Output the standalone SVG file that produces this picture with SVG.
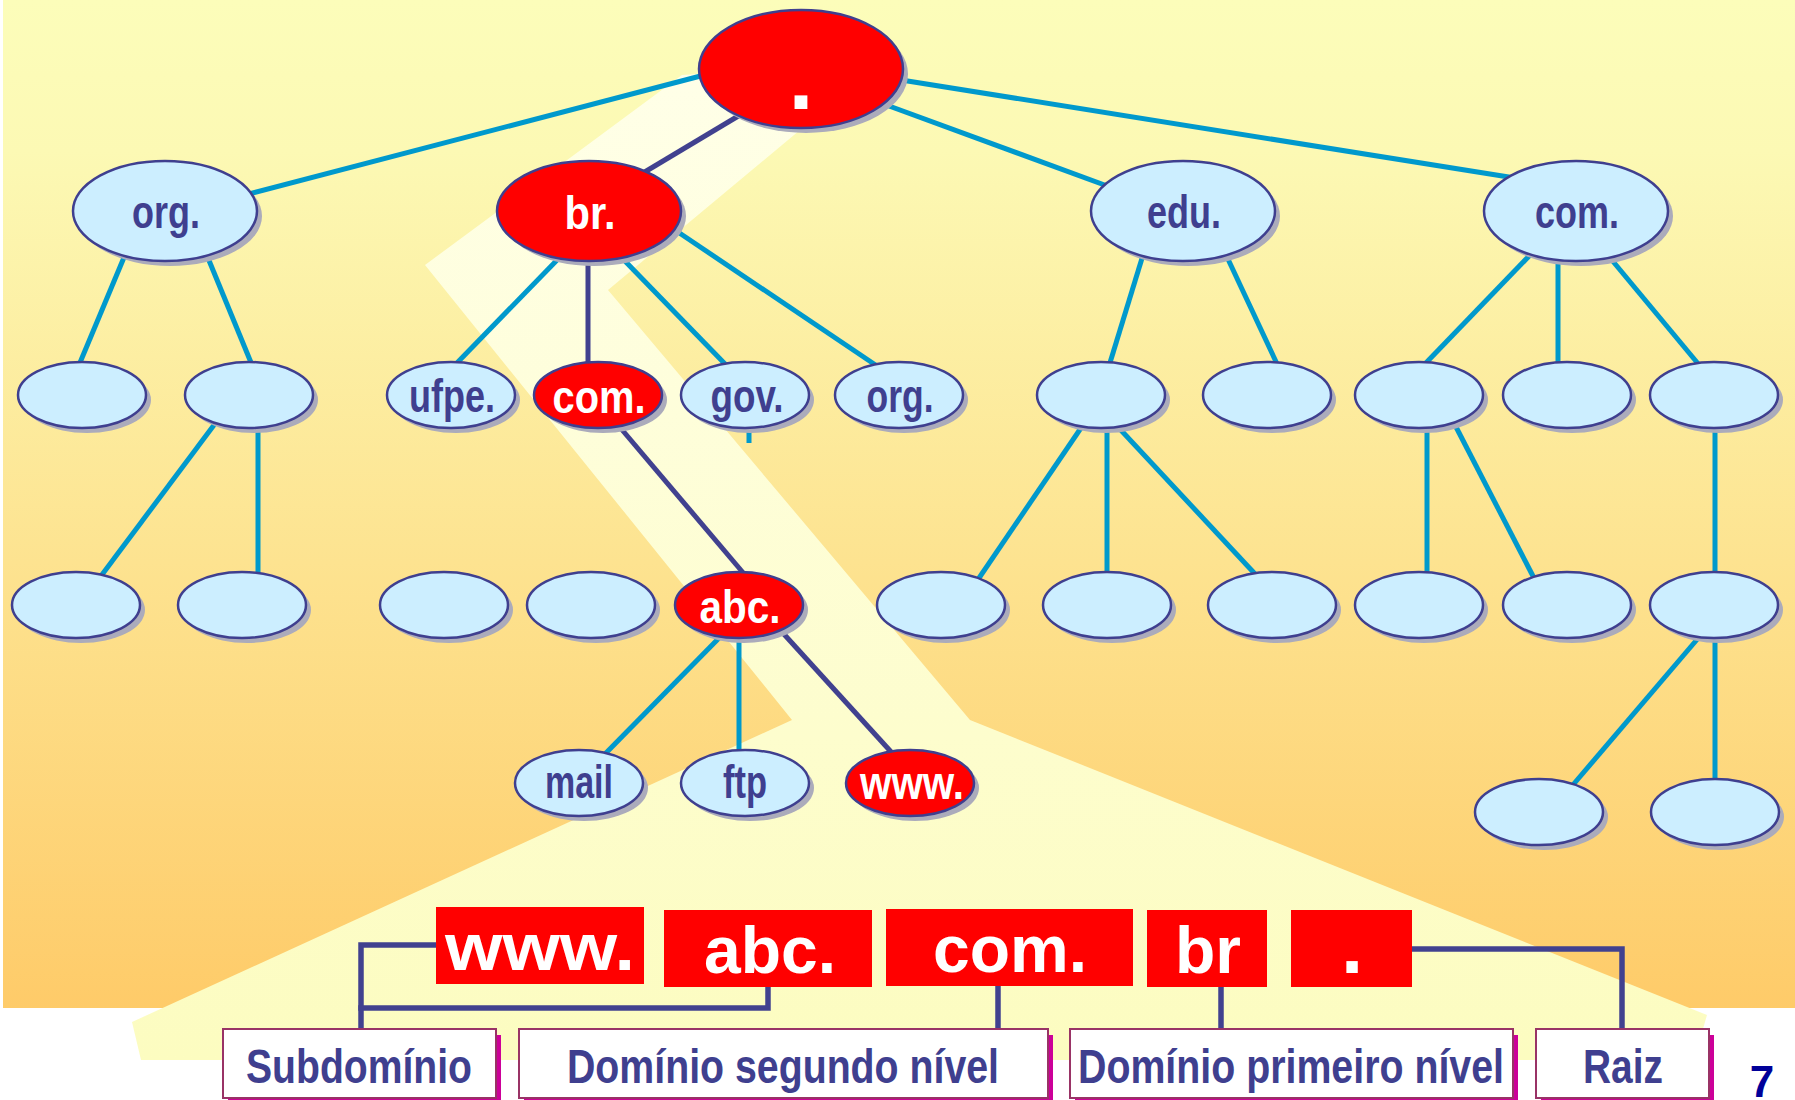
<svg xmlns="http://www.w3.org/2000/svg" width="1795" height="1100" viewBox="0 0 1795 1100">
  <defs>
    <linearGradient id="bg" x1="0" y1="0" x2="0" y2="1">
      <stop offset="0" stop-color="#FCFDBA"/>
      <stop offset="0.15" stop-color="#FCF9B4"/>
      <stop offset="1" stop-color="#FECB69"/>
    </linearGradient>
    <linearGradient id="beam" gradientUnits="userSpaceOnUse" x1="0" y1="70" x2="0" y2="1060">
      <stop offset="0" stop-color="#FFFFE8"/>
      <stop offset="1" stop-color="#FCFCC0"/>
    </linearGradient>
    <style>
      .sh { fill: #ABABBB; }
      .body { stroke: #3F3F8F; stroke-width: 2.5; }
      .blue .body { fill: #CCEEFF; }
      .red .body { fill: #FF0000; }
      .lbl { font-family: "Liberation Sans Narrow", "Liberation Sans", Arial, sans-serif; font-weight: bold; font-size: 46px; text-anchor: middle; }
      .blue .lbl { fill: #3F3F8F; }
      .red .lbl { fill: #FFFFFF; }
      .c { stroke: #0099CC; stroke-width: 5; fill: none; }
      .h { stroke: #41418F; stroke-width: 5; fill: none; }
      .br { stroke: #41418F; stroke-width: 5.5; fill: none; }
      .part rect { fill: #FF0000; }
      .part text { font-family: "Liberation Sans", Arial, sans-serif; font-weight: bold; font-size: 66px; fill: #FFFFFF; text-anchor: middle; }
      .tag .shd { fill: #CC0099; }
      .tag .box { fill: #FFFFFF; stroke: #993366; stroke-width: 2; }
      .tag text { font-family: "Liberation Sans Narrow", "Liberation Sans", Arial, sans-serif; font-weight: bold; font-size: 48px; fill: #3F3F8F; text-anchor: middle; }
    </style>
  </defs>

  <!-- backdrop -->
  <rect x="0" y="0" width="1795" height="1100" fill="#FFFFFF"/>
  <rect x="3" y="0" width="1792" height="1008" fill="url(#bg)"/>
  <polygon fill="url(#beam)" points="682,75 770,70 800,130 608,290 970,720 1707,1015 1694,1060 141,1060 132,1022 792,720 425,265"/>

  <!-- tree edges and name brackets -->
  <g id="connectors">
    <line class="c" x1="245" y1="195" x2="712" y2="73"/>
    <line class="c" x1="870" y1="99" x2="1110" y2="187"/>
    <line class="c" x1="895" y1="79" x2="1515" y2="178"/>
    <line class="h" x1="745" y1="112" x2="638" y2="176"/>

    <line class="c" x1="125" y1="255" x2="79" y2="365"/>
    <line class="c" x1="208" y1="258" x2="252" y2="365"/>
    <line class="c" x1="560" y1="257" x2="455" y2="365"/>
    <line class="h" x1="588" y1="258" x2="588" y2="365"/>
    <line class="c" x1="622" y1="258" x2="727" y2="366"/>
    <line class="c" x1="675" y1="230" x2="877" y2="366"/>
    <line class="c" x1="1143" y1="255" x2="1109" y2="366"/>
    <line class="c" x1="1227" y1="257" x2="1278" y2="366"/>
    <line class="c" x1="1532" y1="253" x2="1423" y2="366"/>
    <line class="c" x1="1558" y1="258" x2="1558" y2="366"/>
    <line class="c" x1="1611" y1="259" x2="1700" y2="366"/>

    <line class="c" x1="214" y1="425" x2="101" y2="576"/>
    <line class="c" x1="258" y1="425" x2="258" y2="576"/>
    <line class="c" x1="749" y1="425" x2="749" y2="443"/>
    <line class="h" x1="618" y1="425" x2="745" y2="575"/>
    <line class="c" x1="1083" y1="425" x2="977" y2="581"/>
    <line class="c" x1="1107" y1="425" x2="1107" y2="576"/>
    <line class="c" x1="1118" y1="427" x2="1256" y2="575"/>
    <line class="c" x1="1427" y1="425" x2="1427" y2="576"/>
    <line class="c" x1="1455" y1="425" x2="1535" y2="580"/>
    <line class="c" x1="1715" y1="425" x2="1715" y2="576"/>

    <line class="c" x1="721" y1="636" x2="604" y2="755"/>
    <line class="c" x1="739" y1="636" x2="739" y2="752"/>
    <line class="h" x1="782" y1="632" x2="893" y2="754"/>
    <line class="c" x1="1700" y1="636" x2="1572" y2="786"/>
    <line class="c" x1="1715" y1="636" x2="1715" y2="782"/>

    <polyline class="br" points="436,945 361,945 361,1029"/>
    <polyline class="br" points="768,987 768,1008 358.25,1008"/>
    <line class="br" x1="998" y1="986" x2="998" y2="1029"/>
    <line class="br" x1="1221" y1="987" x2="1221" y2="1029"/>
    <polyline class="br" points="1412,949 1622,949 1622,1029"/>
  </g>

  <!-- root -->
  <g id="n-root" class="node red">
    <ellipse class="sh" cx="806" cy="74" rx="102" ry="59"/>
    <ellipse class="body" cx="801" cy="69" rx="102" ry="59"/>
    <text x="801" y="109" style="font-family:'Liberation Sans',Arial,sans-serif;font-weight:bold;font-size:90px;fill:#FFFFFF;text-anchor:middle">.</text>
  </g>

  <!-- top level domains -->
  <g id="n-org" class="node blue">
    <ellipse class="sh" cx="170" cy="216" rx="92" ry="50"/>
    <ellipse class="body" cx="165" cy="211" rx="92" ry="50"/>
    <text class="lbl" x="166" y="228" textLength="68" lengthAdjust="spacingAndGlyphs">org.</text>
  </g>
  <g id="n-br" class="node red">
    <ellipse class="sh" cx="594" cy="216" rx="92" ry="50"/>
    <ellipse class="body" cx="589" cy="211" rx="92" ry="50"/>
    <text class="lbl" x="590" y="229" textLength="51" lengthAdjust="spacingAndGlyphs">br.</text>
  </g>
  <g id="n-edu" class="node blue">
    <ellipse class="sh" cx="1188" cy="216" rx="92" ry="50"/>
    <ellipse class="body" cx="1183" cy="211" rx="92" ry="50"/>
    <text class="lbl" x="1184" y="228" textLength="74" lengthAdjust="spacingAndGlyphs">edu.</text>
  </g>
  <g id="n-com" class="node blue">
    <ellipse class="sh" cx="1581" cy="216" rx="92" ry="50"/>
    <ellipse class="body" cx="1576" cy="211" rx="92" ry="50"/>
    <text class="lbl" x="1577" y="228" textLength="84" lengthAdjust="spacingAndGlyphs">com.</text>
  </g>

  <!-- second level -->
  <g id="n-org-a" class="node blue">
    <ellipse class="sh" cx="87" cy="400" rx="64" ry="33"/>
    <ellipse class="body" cx="82" cy="395" rx="64" ry="33"/>
  </g>
  <g id="n-org-b" class="node blue">
    <ellipse class="sh" cx="254" cy="400" rx="64" ry="33"/>
    <ellipse class="body" cx="249" cy="395" rx="64" ry="33"/>
  </g>
  <g id="n-ufpe" class="node blue">
    <ellipse class="sh" cx="456" cy="400" rx="64" ry="33"/>
    <ellipse class="body" cx="451" cy="395" rx="64" ry="33"/>
    <text class="lbl" x="452" y="412" textLength="86" lengthAdjust="spacingAndGlyphs">ufpe.</text>
  </g>
  <g id="n-com-br" class="node red">
    <ellipse class="sh" cx="603" cy="400" rx="64" ry="33"/>
    <ellipse class="body" cx="598" cy="395" rx="64" ry="33"/>
    <text class="lbl" x="599" y="413" textLength="93" lengthAdjust="spacingAndGlyphs">com.</text>
  </g>
  <g id="n-gov" class="node blue">
    <ellipse class="sh" cx="750" cy="400" rx="64" ry="33"/>
    <ellipse class="body" cx="745" cy="395" rx="64" ry="33"/>
    <text class="lbl" x="747" y="412" textLength="73" lengthAdjust="spacingAndGlyphs">gov.</text>
  </g>
  <g id="n-org-br" class="node blue">
    <ellipse class="sh" cx="904" cy="400" rx="64" ry="33"/>
    <ellipse class="body" cx="899" cy="395" rx="64" ry="33"/>
    <text class="lbl" x="900" y="412" textLength="67" lengthAdjust="spacingAndGlyphs">org.</text>
  </g>
  <g id="n-edu-a" class="node blue">
    <ellipse class="sh" cx="1106" cy="400" rx="64" ry="33"/>
    <ellipse class="body" cx="1101" cy="395" rx="64" ry="33"/>
  </g>
  <g id="n-edu-b" class="node blue">
    <ellipse class="sh" cx="1272" cy="400" rx="64" ry="33"/>
    <ellipse class="body" cx="1267" cy="395" rx="64" ry="33"/>
  </g>
  <g id="n-com-a" class="node blue">
    <ellipse class="sh" cx="1424" cy="400" rx="64" ry="33"/>
    <ellipse class="body" cx="1419" cy="395" rx="64" ry="33"/>
  </g>
  <g id="n-com-b" class="node blue">
    <ellipse class="sh" cx="1572" cy="400" rx="64" ry="33"/>
    <ellipse class="body" cx="1567" cy="395" rx="64" ry="33"/>
  </g>
  <g id="n-com-c" class="node blue">
    <ellipse class="sh" cx="1719" cy="400" rx="64" ry="33"/>
    <ellipse class="body" cx="1714" cy="395" rx="64" ry="33"/>
  </g>

  <!-- third level -->
  <g id="n-l3-1" class="node blue">
    <ellipse class="sh" cx="81" cy="610" rx="64" ry="33"/>
    <ellipse class="body" cx="76" cy="605" rx="64" ry="33"/>
  </g>
  <g id="n-l3-2" class="node blue">
    <ellipse class="sh" cx="247" cy="610" rx="64" ry="33"/>
    <ellipse class="body" cx="242" cy="605" rx="64" ry="33"/>
  </g>
  <g id="n-l3-3" class="node blue">
    <ellipse class="sh" cx="449" cy="610" rx="64" ry="33"/>
    <ellipse class="body" cx="444" cy="605" rx="64" ry="33"/>
  </g>
  <g id="n-l3-4" class="node blue">
    <ellipse class="sh" cx="596" cy="610" rx="64" ry="33"/>
    <ellipse class="body" cx="591" cy="605" rx="64" ry="33"/>
  </g>
  <g id="n-abc" class="node red">
    <ellipse class="sh" cx="744" cy="610" rx="64" ry="33"/>
    <ellipse class="body" cx="739" cy="605" rx="64" ry="33"/>
    <text class="lbl" x="740" y="623" textLength="81" lengthAdjust="spacingAndGlyphs">abc.</text>
  </g>
  <g id="n-l3-6" class="node blue">
    <ellipse class="sh" cx="946" cy="610" rx="64" ry="33"/>
    <ellipse class="body" cx="941" cy="605" rx="64" ry="33"/>
  </g>
  <g id="n-l3-7" class="node blue">
    <ellipse class="sh" cx="1112" cy="610" rx="64" ry="33"/>
    <ellipse class="body" cx="1107" cy="605" rx="64" ry="33"/>
  </g>
  <g id="n-l3-8" class="node blue">
    <ellipse class="sh" cx="1277" cy="610" rx="64" ry="33"/>
    <ellipse class="body" cx="1272" cy="605" rx="64" ry="33"/>
  </g>
  <g id="n-l3-9" class="node blue">
    <ellipse class="sh" cx="1424" cy="610" rx="64" ry="33"/>
    <ellipse class="body" cx="1419" cy="605" rx="64" ry="33"/>
  </g>
  <g id="n-l3-10" class="node blue">
    <ellipse class="sh" cx="1572" cy="610" rx="64" ry="33"/>
    <ellipse class="body" cx="1567" cy="605" rx="64" ry="33"/>
  </g>
  <g id="n-l3-11" class="node blue">
    <ellipse class="sh" cx="1719" cy="610" rx="64" ry="33"/>
    <ellipse class="body" cx="1714" cy="605" rx="64" ry="33"/>
  </g>

  <!-- hosts -->
  <g id="n-mail" class="node blue">
    <ellipse class="sh" cx="584" cy="788" rx="64" ry="33"/>
    <ellipse class="body" cx="579" cy="783" rx="64" ry="33"/>
    <text class="lbl" x="579" y="798" textLength="68" lengthAdjust="spacingAndGlyphs">mail</text>
  </g>
  <g id="n-ftp" class="node blue">
    <ellipse class="sh" cx="750" cy="788" rx="64" ry="33"/>
    <ellipse class="body" cx="745" cy="783" rx="64" ry="33"/>
    <text class="lbl" x="745" y="798" textLength="44" lengthAdjust="spacingAndGlyphs">ftp</text>
  </g>
  <g id="n-www" class="node red">
    <ellipse class="sh" cx="915" cy="788" rx="64" ry="33"/>
    <ellipse class="body" cx="910" cy="783" rx="64" ry="33"/>
    <text class="lbl" x="912" y="799" textLength="104" lengthAdjust="spacingAndGlyphs">www.</text>
  </g>
  <g id="n-l4-a" class="node blue">
    <ellipse class="sh" cx="1544" cy="817" rx="64" ry="33"/>
    <ellipse class="body" cx="1539" cy="812" rx="64" ry="33"/>
  </g>
  <g id="n-l4-b" class="node blue">
    <ellipse class="sh" cx="1720" cy="817" rx="64" ry="33"/>
    <ellipse class="body" cx="1715" cy="812" rx="64" ry="33"/>
  </g>

  <!-- the name split into its labels -->
  <g id="part-www" class="part">
    <rect x="436" y="907" width="208" height="77"/>
    <text x="540" y="970" textLength="190" lengthAdjust="spacingAndGlyphs">www.</text>
  </g>
  <g id="part-abc" class="part">
    <rect x="664" y="910" width="208" height="77"/>
    <text x="770" y="973">abc.</text>
  </g>
  <g id="part-com" class="part">
    <rect x="886" y="909" width="247" height="77"/>
    <text x="1010" y="972">com.</text>
  </g>
  <g id="part-br" class="part">
    <rect x="1147" y="910" width="120" height="77"/>
    <text x="1208" y="973">br</text>
  </g>
  <g id="part-root" class="part">
    <rect x="1291" y="910" width="121" height="77"/>
    <text x="1352" y="973" style="font-size:80px">.</text>
  </g>

  <!-- level captions -->
  <g id="tag-sub" class="tag">
    <rect class="shd" x="228" y="1035" width="273" height="69"/>
    <rect class="box" x="223" y="1029" width="273" height="69"/>
    <text x="359" y="1083" textLength="226" lengthAdjust="spacingAndGlyphs">Subdomínio</text>
  </g>
  <g id="tag-second" class="tag">
    <rect class="shd" x="524" y="1035" width="529" height="69"/>
    <rect class="box" x="519" y="1029" width="529" height="69"/>
    <text x="783" y="1083" textLength="432" lengthAdjust="spacingAndGlyphs">Domínio segundo nível</text>
  </g>
  <g id="tag-first" class="tag">
    <rect class="shd" x="1075" y="1035" width="443" height="69"/>
    <rect class="box" x="1070" y="1029" width="443" height="69"/>
    <text x="1291" y="1083" textLength="426" lengthAdjust="spacingAndGlyphs">Domínio primeiro nível</text>
  </g>
  <g id="tag-root" class="tag">
    <rect class="shd" x="1541" y="1035" width="173" height="69"/>
    <rect class="box" x="1536" y="1029" width="173" height="69"/>
    <text x="1623" y="1083" textLength="80" lengthAdjust="spacingAndGlyphs">Raiz</text>
  </g>

  <text x="1762" y="1097" style="font-family:'Liberation Sans',Arial,sans-serif;font-weight:bold;font-size:44px;fill:#000099;text-anchor:middle">7</text>
</svg>
